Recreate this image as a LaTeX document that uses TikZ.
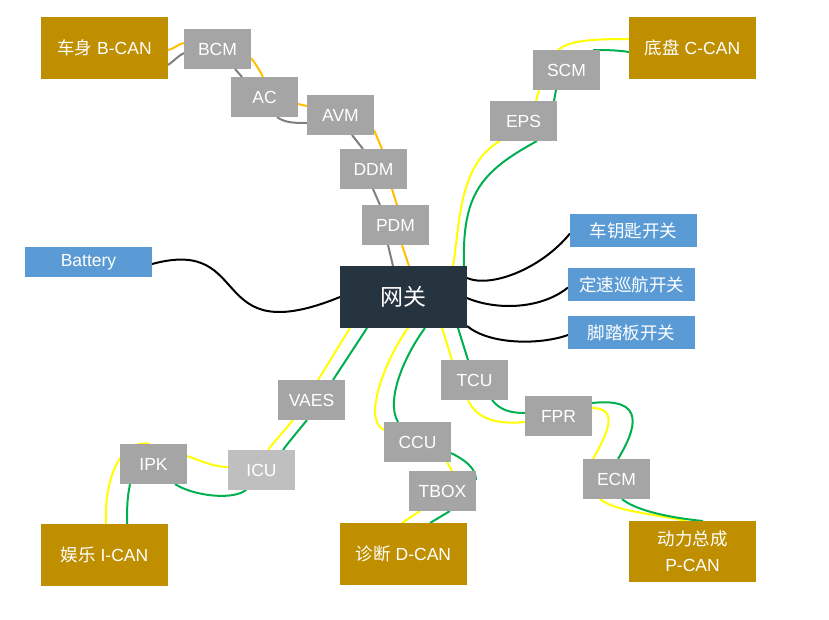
\documentclass[tikz,border=0pt]{standalone}
\usepackage{fontspec}
\setmainfont{Liberation Sans}
\newfontfamily\cjk{Noto Sans CJK SC}
\usetikzlibrary{calc,backgrounds}
\definecolor{gold}{HTML}{BF8F00}
\definecolor{ecugray}{HTML}{A5A5A5}
\definecolor{ecuglt}{HTML}{BFBFBF}
\definecolor{swblue}{HTML}{5B9BD5}
\definecolor{gwdark}{HTML}{263440}
\definecolor{bylw}{HTML}{FFC000}
\definecolor{bgry}{HTML}{7F7F7F}
\definecolor{ylw}{HTML}{FFFF00}
\definecolor{grn}{HTML}{00B050}
\begin{document}
\begin{tikzpicture}[x=1pt,y=-1pt,
  box/.style={inner sep=0pt, text=white, font=\fontsize{17.5}{26}\selectfont, align=center},
  canbox/.style={box, fill=gold, minimum width=127pt, minimum height=62pt},
  ecu/.style={box, fill=ecugray, minimum width=67pt, minimum height=40pt},
  swbox/.style={box, fill=swblue, minimum width=127pt, minimum height=33pt},
  gwbox/.style={box, fill=gwdark, minimum width=127pt, minimum height=62pt, font=\fontsize{23}{27}\selectfont},
  wire/.style={line width=2pt},
  yb/.style={wire, draw=bylw},
  gb/.style={wire, draw=bgry},
  yw/.style={wire, draw=ylw},
  gw/.style={wire, draw=grn},
  bw/.style={wire, draw=black}
]
\useasboundingbox (0,0) rectangle (829,619);
% CAN buses
\node[canbox] (bcan) at (104.5,48) {{\cjk 车身} B-CAN};
\node[canbox] (ccan) at (692.5,48) {{\cjk 底盘} C-CAN};
\node[canbox] (ican) at (104.5,555) {{\cjk 娱乐} I-CAN};
\node[canbox] (dcan) at (403.5,554) {{\cjk 诊断} D-CAN};
\node[canbox, minimum height=61pt] (pcan) at (692.5,551.5) {{\cjk 动力总成}\\P-CAN};
% ECUs
\node[ecu] (BCM) at (217.5,49) {BCM};
\node[ecu] (AC) at (264.5,97) {AC};
\node[ecu] (AVM) at (340.5,115) {AVM};
\node[ecu] (DDM) at (373.5,169) {DDM};
\node[ecu] (PDM) at (395.5,225) {PDM};
\node[ecu] (SCM) at (566.5,70) {SCM};
\node[ecu] (EPS) at (523.5,121) {EPS};
\node[ecu] (VAES) at (311.5,400) {VAES};
\node[ecu] (IPK) at (153.5,464) {IPK};
\node[ecu, fill=ecuglt] (ICU) at (261.5,470) {ICU};
\node[ecu] (CCU) at (417.5,442) {CCU};
\node[ecu] (TBOX) at (442.5,491) {TBOX};
\node[ecu] (TCU) at (474.5,380) {TCU};
\node[ecu] (FPR) at (558.5,416) {FPR};
\node[ecu] (ECM) at (616.5,479) {ECM};
% switches
\node[swbox] (key) at (633.5,230.5) {\cjk 车钥匙开关};
\node[swbox, minimum height=30pt] (bat) at (88.5,262) {Battery};
\node[swbox] (cruise) at (631.5,284.5) {\cjk 定速巡航开关};
\node[swbox] (pedal) at (631.5,332.5) {\cjk 脚踏板开关};
% gateway
\node[gwbox] (gate) at (403.5,297) {\cjk 网关};

\begin{scope}[on background layer]
\fill[white] (0,0) rectangle (829,619);
% B-CAN
\draw[yb] ($(bcan)+(63.5,2)$) .. controls +(8,-2) and +(-8,2) .. ($(BCM)+(-33.5,-6)$);
\draw[gb] ($(bcan)+(63.5,17)$) .. controls +(7,-5) and +(-6,3) .. ($(BCM)+(-33.5,4)$);
\draw[yb] ($(BCM)+(33.5,9)$) .. controls +(5,6) and +(-3,-6) .. ($(AC)+(-1.5,-20)$);
\draw[gb] ($(BCM)+(17.5,20)$) -- ($(AC)+(-22.5,-20)$);
\draw[yb] ($(AC)+(33.5,7)$) -- ($(AVM)+(-33.5,-9)$);
\draw[gb] ($(AC)+(12.5,20)$) .. controls +(8,6) and +(-12,0) .. ($(AVM)+(-33.5,8)$);
\draw[yb] ($(AVM)+(33.5,15)$) -- ($(DDM)+(8.5,-20)$);
\draw[gb] ($(AVM)+(11.5,20)$) -- ($(DDM)+(-10.5,-20)$);
\draw[yb] ($(DDM)+(18.5,20)$) -- ($(PDM)+(1.5,-20)$);
\draw[gb] ($(DDM)+(-0.5,20)$) -- ($(PDM)+(-15.5,-20)$);
\draw[yb] ($(PDM)+(6.5,20)$) -- ($(gate)+(5.5,-31)$);
\draw[gb] ($(PDM)+(-7.5,20)$) -- ($(gate)+(-10.5,-31)$);
% C-CAN
\draw[yw] ($(ccan)+(-63.5,-9)$) .. controls +(-35,0) and +(12,-10) .. ($(SCM)+(-8.5,-20)$);
\draw[gw] ($(ccan)+(-63.5,4)$) .. controls +(-12,-2) and +(10,0) .. ($(SCM)+(26.5,-20)$);
\draw[yw] ($(SCM)+(-27.5,20)$) -- ($(EPS)+(12.5,-20)$);
\draw[gw] ($(SCM)+(-10.5,20)$) -- ($(EPS)+(30.5,-20)$);
\draw[yw] ($(EPS)+(-23.5,20)$) .. controls +(-42,24) and +(7,-41) .. ($(gate)+(49.5,-31)$);
\draw[gw] ($(EPS)+(13.5,20)$) .. controls +(-57,31) and +(-2,-71) .. ($(gate)+(60.5,-31)$);
% switches
\draw[bw] ($(gate)+(63.5,-19)$) .. controls +(23,10) and +(-30,36.5) .. ($(key)+(-63.5,3)$);
\draw[bw] ($(gate)+(63.5,1)$) .. controls +(28,12) and +(-28,22.5) .. ($(cruise)+(-63.5,3)$);
\draw[bw] ($(gate)+(63.5,29)$) .. controls +(23,19) and +(-28,10) .. ($(pedal)+(-63.5,2.5)$);
\draw[bw] ($(bat)+(63.5,2)$) .. controls +(103,-28) and +(-135,55) .. ($(gate)+(-63.5,0)$);
% I-CAN
\draw[yw] ($(gate)+(-53.5,31)$) -- ($(VAES)+(6.5,-20)$);
\draw[gw] ($(gate)+(-36.5,31)$) -- ($(VAES)+(21.5,-20)$);
\draw[yw] ($(VAES)+(-18.5,20)$) .. controls +(-8,10) and +(4,-6) .. ($(ICU)+(6.5,-20)$);
\draw[gw] ($(VAES)+(-4.5,20)$) .. controls +(-8,10) and +(4,-6) .. ($(ICU)+(21.5,-20)$);
\draw[yw] ($(ICU)+(-33.5,-3)$) .. controls +(-15,0) and +(12,4) .. ($(IPK)+(33.5,-8)$);
\draw[gw] ($(ICU)+(-14.5,19)$) .. controls +(-12,12) and +(18,12) .. ($(IPK)+(21.5,20)$);
\draw[yw] ($(IPK)+(-3.5,-20)$) .. controls +(-30,-6) and +(-2,-44) .. ($(ican)+(1.5,-31)$);
\draw[gw] ($(IPK)+(-23.5,20)$) .. controls +(-3,15) and +(0,-15) .. ($(ican)+(22.5,-31)$);
% D-CAN
\draw[yw] ($(gate)+(4.5,31)$) .. controls +(-23,32) and +(-22,-10) .. ($(CCU)+(-33.5,-12)$);
\draw[gw] ($(gate)+(21.5,31)$) .. controls +(-20,27) and +(-13,-22) .. ($(CCU)+(-19.5,-20)$);
\draw[yw] ($(CCU)+(29.5,20)$) -- ($(TBOX)+(9.5,-20)$);
\draw[gw] ($(CCU)+(33.5,11)$) .. controls +(14,7) and +(0,-12) .. ($(TBOX)+(33.5,-11)$);
\draw[yw] ($(TBOX)+(-22.5,20)$) -- ($(dcan)+(-1.5,-31)$);
\draw[gw] ($(TBOX)+(7.5,20)$) -- ($(dcan)+(26.5,-31)$);
% P-CAN
\draw[yw] ($(gate)+(38.5,31)$) -- ($(TCU)+(-22.5,-20)$);
\draw[gw] ($(gate)+(54.5,31)$) -- ($(TCU)+(-6.5,-20)$);
\draw[yw] ($(TCU)+(-6.5,20)$) .. controls +(8,18) and +(-30,3) .. ($(FPR)+(-33.5,6)$);
\draw[gw] ($(TCU)+(17.5,20)$) .. controls +(8,10) and +(-15,0) .. ($(FPR)+(-33.5,-3)$);
\draw[yw] ($(FPR)+(33.5,-8)$) .. controls +(28,0) and +(14,-25) .. ($(ECM)+(-23.5,-20)$);
\draw[gw] ($(FPR)+(33.5,-13)$) .. controls +(55,-6) and +(18,-30) .. ($(ECM)+(1.5,-20)$);
\draw[yw] ($(ECM)+(-16.5,20)$) .. controls +(15,12) and +(-40,-8) .. ($(pcan)+(-5.5,-30.5)$);
\draw[gw] ($(ECM)+(5.5,20)$) .. controls +(12,10) and +(-40,-4) .. ($(pcan)+(10.5,-30.5)$);
\end{scope}
\end{tikzpicture}
\end{document}
